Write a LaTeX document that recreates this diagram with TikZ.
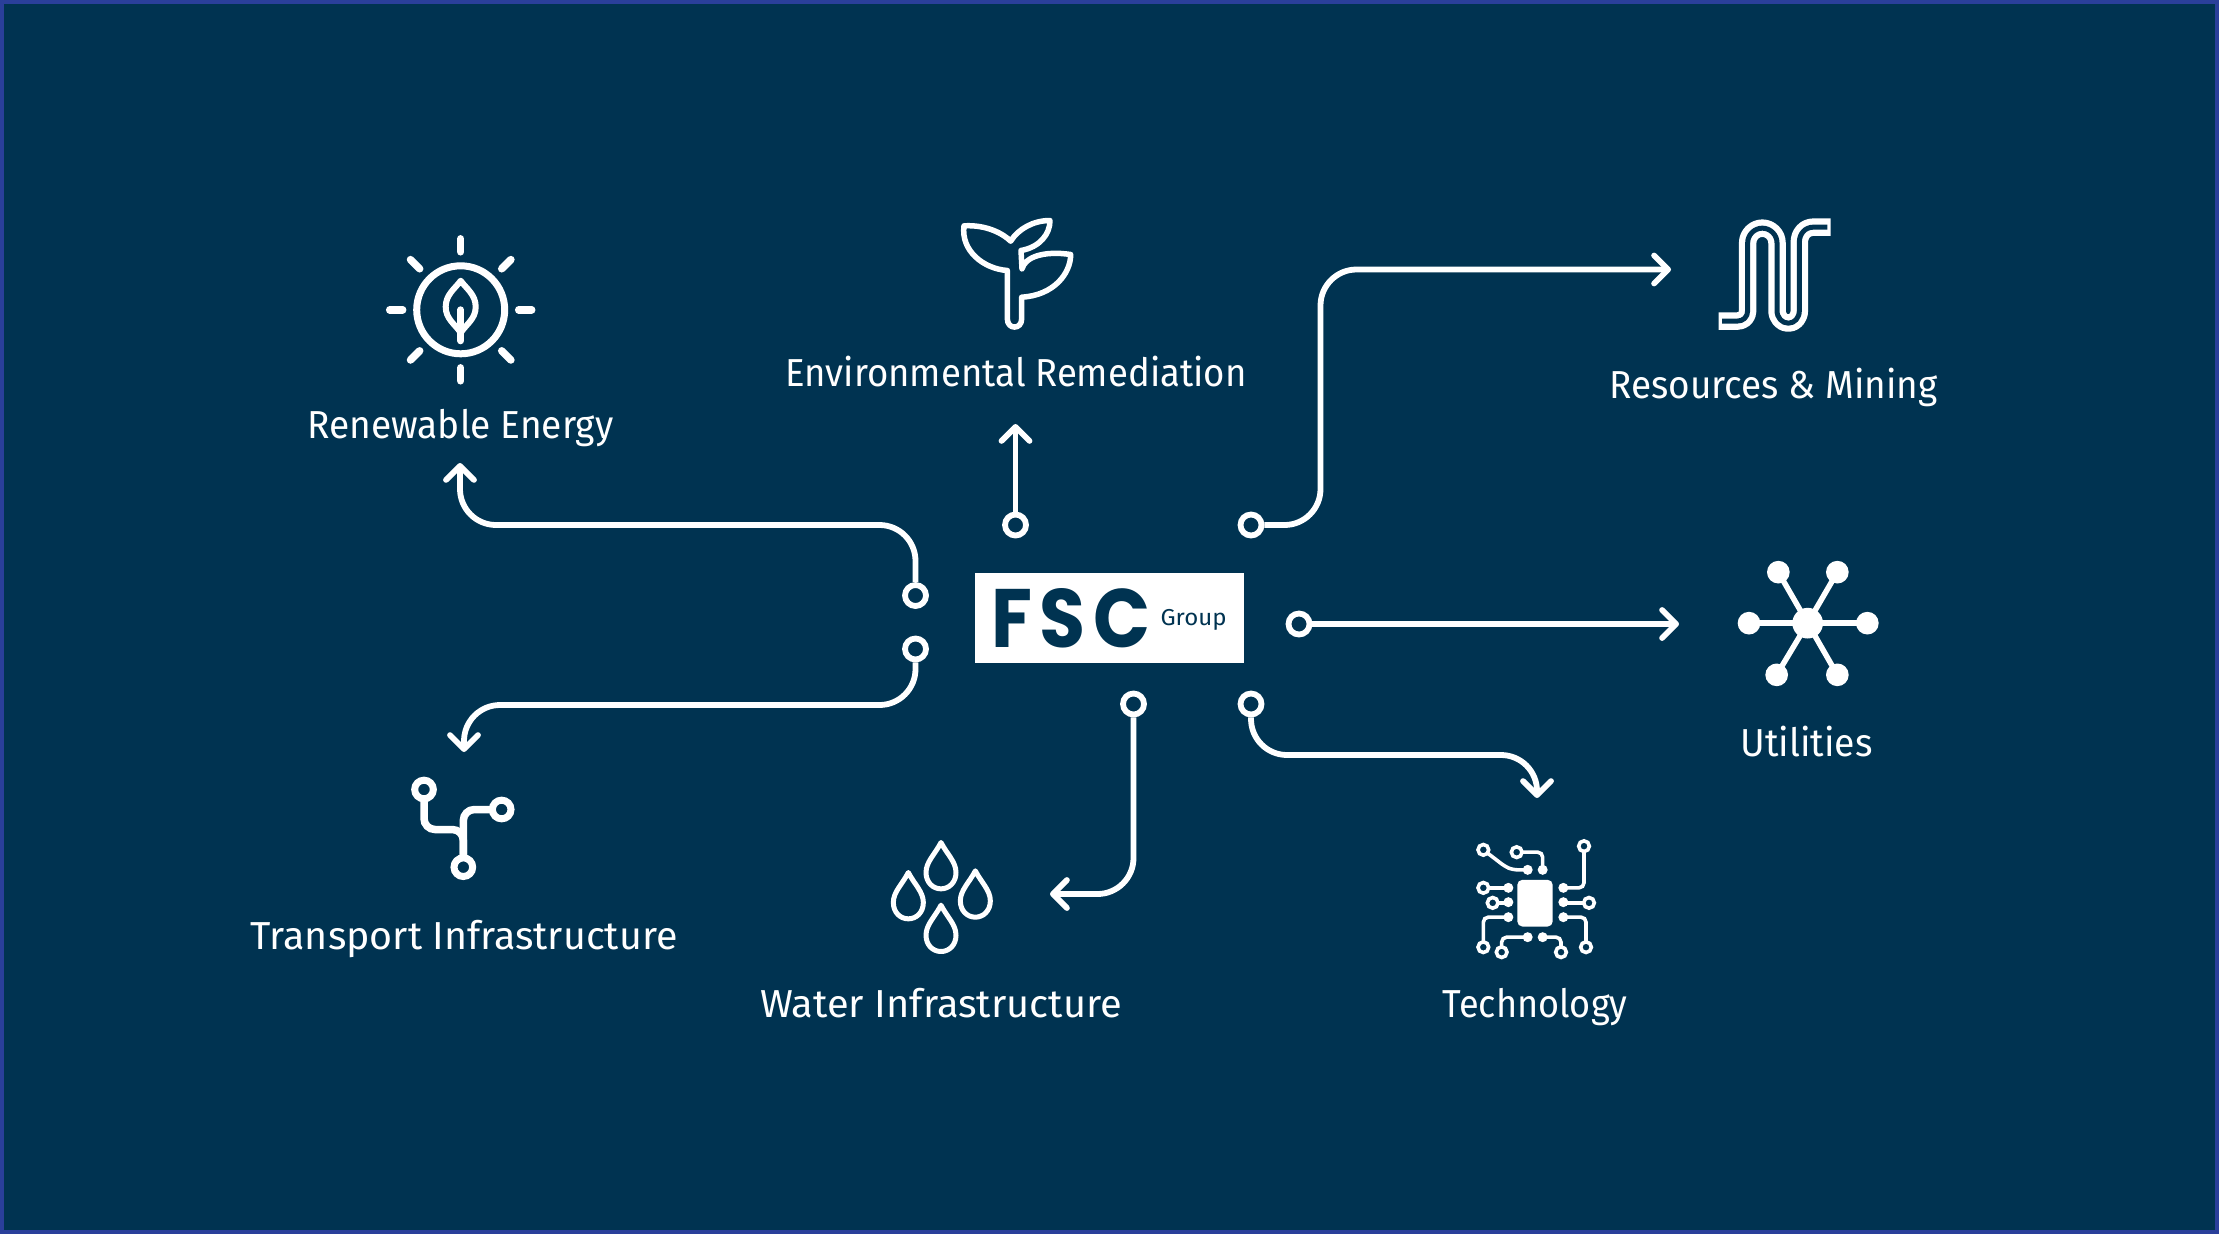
\documentclass[tikz,border=0pt]{standalone}
\usepackage{fontspec}
\setmainfont{Fira Sans}
\newfontfamily\logofont{Poppins}
\usetikzlibrary{arrows.meta}
\definecolor{bgnavy}{HTML}{003351}
\definecolor{edgeblue}{HTML}{2A3F9A}
\newcommand{\lab}[2]{\resizebox{#1pt}{\height}{#2}}
\tikzset{
  port/.style={circle,draw=white,line width=5.8pt,minimum size=21pt,inner sep=0pt},
  conn/.style={draw=white,line width=5.8pt,rounded corners=36pt,
    -{Straight Barb[length=14pt,width=28pt,round]}},
  label/.style={text=white,anchor=base,inner sep=0pt,font=\fontsize{39}{46}\selectfont},
  ico/.style={draw=white,line cap=round,line join=round},
  pad/.style={fill=white},
  ring/.style={draw=white,fill=bgnavy,line width=3.6pt}
}
\begin{document}
\begin{tikzpicture}[x=1pt,y=-1pt]
\useasboundingbox (0,0) rectangle (2219,1234);
\fill[edgeblue] (0,0) rectangle (2219,1234);
\fill[bgnavy] (4,4) rectangle (2215,1230);

% centre logo
\node[fill=white,minimum width=269pt,minimum height=90pt,inner sep=0pt] (logo) at (1109.5,618) {};
\node[text=bgnavy,inner sep=0pt] (fsc) at (1071,618.5) {\resizebox{159pt}{59pt}{\logofont\bfseries\fontsize{70}{70}\selectfont\addfontfeature{LetterSpace=10}FSC}};
\node[text=bgnavy,inner sep=0pt,anchor=base] (grp) at (1193.5,625.5) {\lab{66}{\fontsize{23}{24}\selectfont Group}};

% ports
\node[port] (c1) at (915.5,595.5) {};
\node[port] (c2) at (915.5,649) {};
\node[port] (c3) at (1015.5,525) {};
\node[port] (c4) at (1251,525) {};
\node[port] (c5) at (1299,624) {};
\node[port] (c6) at (1133.5,704) {};
\node[port] (c7) at (1251,704) {};

% connector bends and ends
\coordinate (k1) at (460,525);  \coordinate (t1) at (460,463);
\coordinate (k2) at (464,705);  \coordinate (t2) at (464,752);
\coordinate (t3) at (1015.5,424);
\coordinate (k4) at (1320.5,269.5); \coordinate (t4) at (1671,269.5);
\coordinate (t5) at (1679,624);
\coordinate (t6) at (1050,894);
\coordinate (k7) at (1537,755); \coordinate (t7) at (1537,798);

\draw[conn] (c1.north) |- (k1) -- (t1);
\draw[conn] (c2.south) |- (k2) -- (t2);
\draw[conn] (c3.north) -- (t3);
\draw[conn] (c4.east) -| (k4) -- (t4);
\draw[conn] (c5.east) -- (t5);
\draw[conn] (c6.south) |- (t6);
\draw[conn] (c7.south) |- (k7) -- (t7);

% labels
\node[label] (l1) at (460.5,438.5) {\lab{306}{Renewable Energy}};
\node[label] (l2) at (1016,386.5) {\lab{461}{Environmental Remediation}};
\node[label] (l3) at (1773.5,398.5) {\lab{328}{Resources \& Mining}};
\node[label] (l4) at (1806.5,756.5) {\lab{132}{Utilities}};
\node[label] (l5) at (1535,1017) {\lab{185}{Technology}};
\node[label] (l6) at (941,1017) {\lab{362}{Water Infrastructure}};
\node[label] (l7) at (464,949) {\lab{427}{Transport Infrastructure}};

% sun icon
\begin{scope}[shift={(460.7,309.8)}]
  \draw[ico,line width=7pt] (0,0) circle[radius=44];
  \foreach \a in {0,45,...,315}
    \draw[ico,line width=7.5pt] ({58*cos(\a)},{58*sin(\a)}) -- ({71*cos(\a)},{71*sin(\a)});
  \draw[ico,line width=6pt] (0,-29) .. controls (-6,-21) and (-15,-15) .. (-15,-3)
     .. controls (-15,9) and (-6,14) .. (0,23) .. controls (6,14) and (15,9) .. (15,-3)
     .. controls (15,-15) and (6,-21) .. (0,-29);
  \draw[ico,line width=7pt] (0,0) -- (0,31);
\end{scope}

% sprout icon
\begin{scope}[shift={(940,200.5)},scale=0.33333]
  \draw[ico,line width=5.5pt]
    (72,76) .. controls (140,72) and (190,100) .. (212,122)
    .. controls (235,85) and (280,60) .. (330,60)
    .. controls (330,100) and (300,140) .. (243,150)
    -- (246,205)
    .. controls (255,170) and (310,150) .. (392,162)
    .. controls (392,220) and (340,285) .. (245,290)
    -- (245,355) .. controls (245,388) and (202,388) .. (202,355)
    -- (202,210)
    .. controls (130,205) and (62,150) .. (72,76) -- cycle;
\end{scope}

% serpentine icon
\begin{scope}[shift={(1700,200.5)},scale=0.33333]
  \draw[white,line width=17.5pt,line join=round]
    (56,362) -- (110,362) .. controls (130,362) and (143,350) .. (143,330) -- (143,127)
    .. controls (143,103) and (163,83) .. (187,83) .. controls (211,83) and (231,103) .. (231,127)
    -- (231,330) .. controls (231,352) and (246,368) .. (265,368) .. controls (284,368) and (298,352) .. (298,330)
    -- (298,125) .. controls (298,100) and (315,80) .. (340,80) -- (392,80);
  \draw[bgnavy,line width=5pt,line join=round]
    (66,362) -- (110,362) .. controls (130,362) and (143,350) .. (143,330) -- (143,127)
    .. controls (143,103) and (163,83) .. (187,83) .. controls (211,83) and (231,103) .. (231,127)
    -- (231,330) .. controls (231,352) and (246,368) .. (265,368) .. controls (284,368) and (298,352) .. (298,330)
    -- (298,125) .. controls (298,100) and (315,80) .. (340,80) -- (382,80);
\end{scope}

% hub icon
\begin{scope}[shift={(1720,550.5)},scale=0.33333]
  \foreach \x/\y in {175/65,352/65,87/218,442/218,170/373,352/373} {
    \draw[white,line width=5.5pt] (263,218) -- (\x,\y);
    \fill[white] (\x,\y) circle[radius=34];
  }
  \fill[white] (263,218) circle[radius=46];
\end{scope}

% chip icon
\begin{scope}[shift={(1460,830.5)},scale=0.33333]
  \fill[white,rounded corners=5pt] (172,148) rectangle (278,288);
  \begin{scope}[draw=white,line width=3.6pt,rounded corners=5pt]
    \draw (70,58) -- (135,108) -- (158,118) -- (203,118);
    \draw (170,65) -- (248,65) -- (248,118);
    \draw (372,47) -- (372,172) -- (310,172);
    \draw (70,172) -- (145,172);
    \draw (98,217) -- (145,217);
    \draw (387,217) -- (310,217);
    \draw (70,350) -- (70,260) -- (145,260);
    \draw (125,365) -- (125,320) -- (203,320);
    \draw (303,365) -- (303,320) -- (248,320);
    \draw (378,350) -- (378,260) -- (310,260);
  \end{scope}
  \foreach \x/\y in {203/118,248/118,145/172,145/215,145/260,310/172,310/215,310/260,203/320,248/320}
    \fill[pad] (\x,\y) circle[radius=15];
  \foreach \x/\y in {70/58,170/65,372/47,70/172,98/217,387/217,70/350,125/365,303/365,378/350}
    \draw[ring] (\x,\y) circle[radius=16];
\end{scope}

% drops icon
\begin{scope}[shift={(870,830.5)},scale=0.33333]
  \foreach \x/\y in {213/36,115/126,316/121,213/224}
    \draw[ico,line width=5pt] (\x,\y)
      .. controls ({\x+18},{\y+35}) and ({\x+45},{\y+58}) .. ({\x+45},{\y+90})
      .. controls ({\x+45},{\y+120}) and ({\x+24},{\y+139}) .. (\x,{\y+139})
      .. controls ({\x-24},{\y+139}) and ({\x-45},{\y+120}) .. ({\x-45},{\y+90})
      .. controls ({\x-45},{\y+58}) and ({\x-18},{\y+35}) .. (\x,\y) -- cycle;
\end{scope}

% branching icon
\begin{scope}[shift={(400,765.5)},scale=0.33333]
  \begin{scope}[draw=white,line width=7.5pt,rounded corners=11pt]
    \draw (72,72) -- (72,192) -- (190,192) -- (190,305);
    \draw (305,132) -- (190,132) -- (190,305);
  \end{scope}
  \foreach \x/\y in {72/72,305/132,190/305}
    \draw[draw=white,fill=bgnavy,line width=7pt] (\x,\y) circle[radius=28];
\end{scope}
\end{tikzpicture}
\end{document}
